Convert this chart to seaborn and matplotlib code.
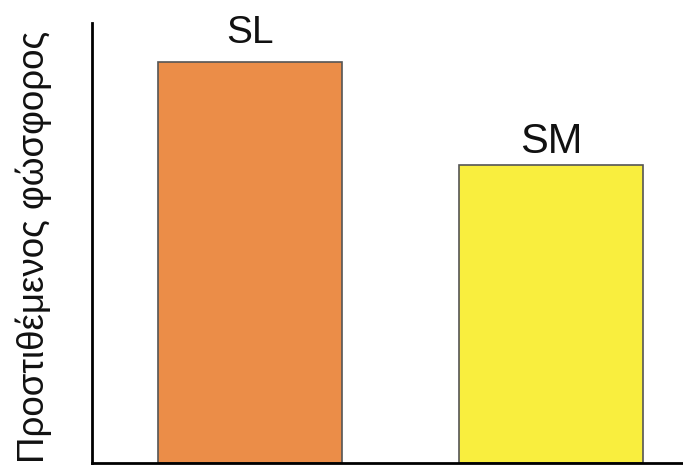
import pandas as pd
import matplotlib.pyplot as plt
import seaborn as sns

# bar data (relative heights, no axis scale shown)
soils = ['SL', 'SM']
phosphorus = [1.0, 0.743]
bar_colors = ['#EB8D48', '#F9EE3E']
label_sizes = [28, 30]
label_gaps = [14, 9]

df = pd.DataFrame({'soil': soils, 'P': phosphorus})

sns.set_style('white')
plt.rcParams['font.family'] = ['Liberation Sans', 'DejaVu Sans']

fig = plt.figure(figsize=(6.83, 4.66), dpi=100)
ax = fig.add_axes([92 / 683, 3 / 466, 1 - 92 / 683, 440 / 466])

sns.barplot(data=df, x='soil', y='P', hue='soil', palette=bar_colors, saturation=1,
            width=0.61, edgecolor='#555555', linewidth=1.2, legend=False, ax=ax)

# labels over bars
for i, (name, val) in enumerate(zip(soils, phosphorus)):
    ax.annotate(name, (i, val), xytext=(0, label_gaps[i]), textcoords='offset points',
                ha='center', va='baseline', fontsize=label_sizes[i], color='#111111')

ax.set_xlim(-0.525, 1.439)
ax.set_ylim(0, 440 / 401)
ax.set_xticks([])
ax.set_yticks([])
ax.set_xlabel('')
ax.set_ylabel('')

# y label placed by hand
fig.text(34 / 683, 1 - 247 / 466, 'Προστιθέμενος φώσφορος', rotation=90,
         ha='center', va='center', fontsize=26.5, color='#111111')

sns.despine(ax=ax, top=True, right=True)
for s in ['left', 'bottom']:
    ax.spines[s].set_linewidth(2)
    ax.spines[s].set_color('black')

fig.savefig('out.png', dpi=100)
